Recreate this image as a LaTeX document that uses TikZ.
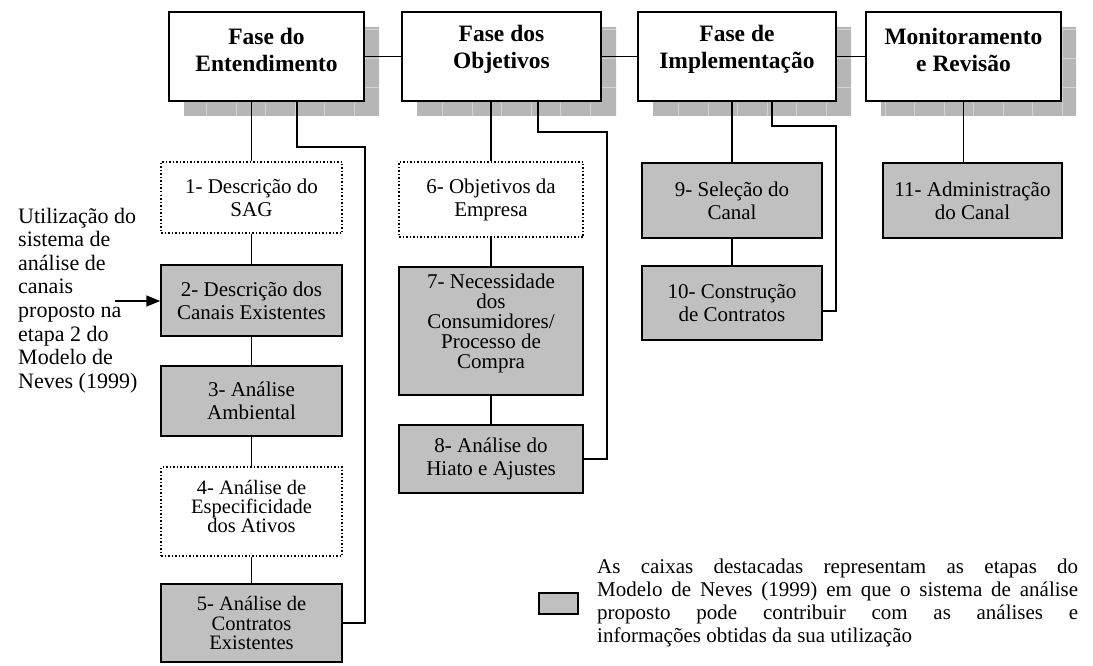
\documentclass[tikz,border=0pt]{standalone}
\usepackage{fontspec}
\setmainfont{Liberation Serif}
\usetikzlibrary{arrows.meta}
\definecolor{boxgray}{RGB}{192,192,192}
\definecolor{shadowgray}{RGB}{182,182,182}
\definecolor{gridgray}{RGB}{210,210,210}
\begin{document}
\begin{tikzpicture}[x=1pt,y=-1pt,
  phase/.style={draw,line width=1.7pt,fill=white,inner sep=0pt,minimum height=89pt},
  phasetext/.style={font=\bfseries\fontsize{23.5}{27}\selectfont,align=center,inner sep=0pt},
  stepbox/.style={draw,line width=1.5pt,fill=boxgray,inner sep=0pt,align=center,font=\fontsize{21}{23}\selectfont},
  dotbox/.style={draw,line width=1.5pt,dotted,fill=white,inner sep=0pt,align=center,font=\fontsize{21}{23}\selectfont},
  conn/.style={line width=1.5pt},
]
\useasboundingbox (0,0) rectangle (1093,666);

% shadows of the phase boxes
\begin{scope}
  \clip (184,27) rectangle (379,116) (417,27) rectangle (616,116)
        (653,27) rectangle (851,116) (881,27) rectangle (1076,116);
  \fill[shadowgray] (170,20) rectangle (1090,120);
  \draw[gridgray,line width=0.6pt,xstep=29.5pt,ystep=29pt] (170,20) grid (1090,120);
\end{scope}

% phase boxes
\node[phase,minimum width=195pt] (A) at (266.5,56.5) {};
\node[phase,minimum width=199pt] (B) at (501.5,56.5) {};
\node[phase,minimum width=198pt] (C) at (737,56.5) {};
\node[phase,minimum width=195pt] (D) at (963.5,56.5) {};
\node[phasetext] (tA) at ([yshift=7pt]A.center) {Fase do\\Entendimento};
\node[phasetext] (tB) at ([yshift=7pt]B.center) {Fase dos\\Objetivos};
\node[phasetext] (tC) at ([yshift=7pt]C.center) {Fase de\\Implementação};
\node[phasetext] (tD) at ([yshift=7pt]D.center) {Monitoramento\\e Revisão};

\draw[conn] (A.east) -- (B.west);
\draw[conn] (B.east) -- (C.west);
\draw[conn] (C.east) -- (D.west);

% left column
\node[dotbox,minimum width=181pt,minimum height=71pt] (b1) at (251.5,197.5) {1- Descrição do\\SAG};
\node[stepbox,minimum width=181pt,minimum height=71pt] (b2) at (251.5,300.5) {2- Descrição dos\\Canais Existentes};
\node[stepbox,minimum width=181pt,minimum height=70pt] (b3) at (251.5,401) {3- Análise\\Ambiental};
\node[dotbox,minimum width=181pt,minimum height=89pt,font=\fontsize{20.5}{19}\selectfont] (b4) at (251.5,511.5) {4- Análise de\\Especificidade\\dos Ativos\\[-9pt]};
\node[stepbox,minimum width=181pt,minimum height=78pt,font=\fontsize{20.5}{19.5}\selectfont] (b5) at (251.5,623) {5- Análise de\\Contratos\\Existentes};

% middle column
\node[dotbox,minimum width=184pt,minimum height=75pt] (b6) at (491,199.5) {6- Objetivos da\\Empresa};
\node[stepbox,minimum width=184pt,minimum height=128pt,font=\fontsize{21}{20}\selectfont] (b7) at (491,331) {7- Necessidade\\dos\\Consumidores/\\Processo de\\Compra\\[0pt]};
\node[stepbox,minimum width=184pt,minimum height=68pt] (b8) at (491,459) {8- Análise do\\Hiato e Ajustes};

% right columns
\node[stepbox,minimum width=180pt,minimum height=75pt] (b9) at (732,200.5) {9- Seleção do\\Canal};
\node[stepbox,minimum width=180pt,minimum height=74pt] (b10) at (732,303) {10- Construção\\de Contratos};
\node[stepbox,minimum width=179pt,minimum height=75pt] (b11) at (972.5,200.5) {11- Administração\\do Canal};

% vertical links
\draw[conn] (b1.north) -- (b1.north |- A.south);
\draw[conn] (b1.south) -- (b2.north);
\draw[conn] (b2.south) -- (b3.north);
\draw[conn] (b3.south) -- (b4.north);
\draw[conn] (b4.south) -- (b5.north);
\draw[conn] (b6.north) -- (b6.north |- B.south);
\draw[conn] (b6.south) -- (b7.north);
\draw[conn] (b7.south) -- (b8.north);
\draw[conn] (b9.north) -- (b9.north |- C.south);
\draw[conn] (b9.south) -- (b10.north);
\draw[conn] (D.south) -- (D.south |- b11.north);

% side loops
\coordinate (A1) at ([xshift=30.5pt]A.south);
\coordinate (A2) at (365,147);
\draw[conn] (A1) |- (A2) |- (b5.east);
\coordinate (B1) at ([xshift=36.5pt]B.south);
\coordinate (B2) at (607,132);
\draw[conn] (B1) |- (B2) |- (b8.east);
\coordinate (C1) at ([xshift=35pt]C.south);
\coordinate (C2) at (836,126);
\draw[conn] (C1) |- (C2) |- ([yshift=-8pt]b10.east);

% annotation on the left
\node[anchor=west,align=left,inner sep=0pt,font=\fontsize{22}{23.6}\selectfont] (note) at (18,300.5)
  {Utilização do\\sistema de\\análise de\\canais\\proposto na\\etapa 2 do\\Modelo de\\Neves (1999)};
\coordinate (arrowstart) at (115,301);
\draw[conn,-{Triangle[length=14pt,width=11pt]}] (arrowstart) -- (arrowstart -| b2.west);

% legend
\node[draw,line width=1.5pt,fill=boxgray,minimum width=39pt,minimum height=21pt,inner sep=0pt] (legbox) at (558.5,603.5) {};
\node[anchor=west,align=left,inner sep=0pt,font=\fontsize{21}{23}\selectfont] (legtext) at (597,602.5)
  {\makebox[481pt][s]{As caixas destacadas representam as etapas do}\\
   \makebox[481pt][s]{Modelo de Neves (1999) em que o sistema de análise}\\
   \makebox[481pt][s]{proposto pode contribuir com as análises e}\\
   informações obtidas da sua utilização};
\end{tikzpicture}
\end{document}
